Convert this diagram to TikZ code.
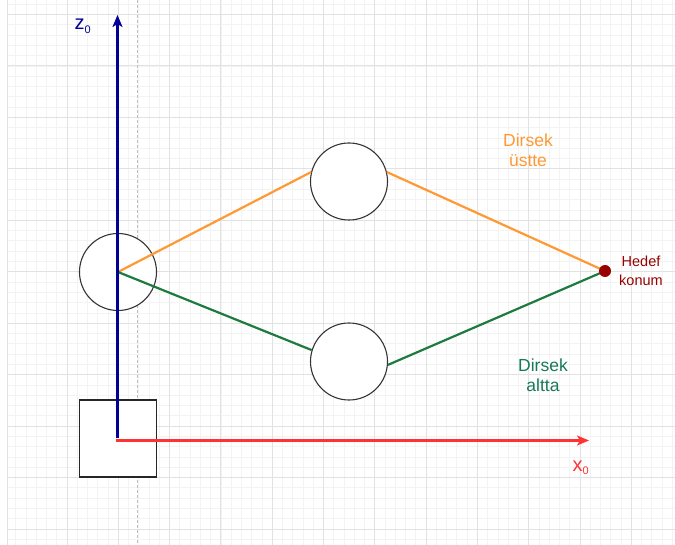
\documentclass[tikz,border=0pt]{standalone}
\usepackage{fontspec}
\setmainfont{Liberation Sans}
\usetikzlibrary{arrows.meta}
\definecolor{gridminor}{RGB}{243,243,243}
\definecolor{gridmajor}{RGB}{226,226,226}
\definecolor{axblue}{RGB}{0,0,153}
\definecolor{axred}{RGB}{255,51,51}
\definecolor{elorange}{RGB}{255,153,51}
\definecolor{elgreen}{RGB}{30,122,62}
\definecolor{txtgreen}{RGB}{22,122,88}
\definecolor{darkred}{RGB}{153,0,0}
\tikzset{
  joint/.style={circle, draw=black!80, line width=1.1pt, fill=white, minimum size=77pt, inner sep=0pt},
  basebox/.style={rectangle, draw=black!85, line width=1.1pt, fill=white, minimum size=77pt, inner sep=0pt},
  target/.style={circle, fill=darkred, minimum size=12pt, inner sep=0pt},
  linkup/.style={elorange, line width=2.2pt},
  linkdown/.style={elgreen, line width=2.2pt},
  axis/.style={line width=2.2pt, -{Stealth[length=12pt,width=10pt,inset=3pt]}},
  lbl/.style={font=\fontsize{17.5}{20}\selectfont, align=center, inner sep=0pt},
  smalllbl/.style={font=\fontsize{14.5}{19}\selectfont, align=center, inner sep=0pt},
}
\begin{document}
\begin{tikzpicture}[x=1pt,y=-1pt]
\useasboundingbox (0,0) rectangle (675,545);
\fill[white] (0,0) rectangle (675,545);
% grid
\foreach \i in {-5,...,62} {
  \pgfmathsetmacro\xx{67+\i*10.26}
  \ifdim\xx pt>7pt \draw[gridminor, line width=0.8pt] (\xx,0) -- (\xx,545); \fi
}
\foreach \i in {-1,...,52} {
  \pgfmathsetmacro\yy{14.5+\i*10.29}
  \draw[gridminor, line width=0.8pt] (7,\yy) -- (675,\yy);
}
\foreach \i in {0,...,11} {
  \draw[gridmajor, line width=1pt] ({67+\i*51.3},0) -- ({67+\i*51.3},545);
}
\foreach \i in {0,...,10} {
  \draw[gridmajor, line width=1pt] (7,{14.5+\i*51.45}) -- (675,{14.5+\i*51.45});
}
\draw[gridmajor, line width=1pt] (7,0) -- (7,545);
% dashed guide
\draw[black!25, line width=0.8pt, dash pattern=on 3pt off 2pt] (137,0) -- (137,545);
% shapes
\node[basebox] (base) at (118,438.5) {};
\node[joint] (c1) at (118,272) {};
\node[joint] (c2) at (349,181.5) {};
\node[joint] (c3) at (349,361.5) {};
\coordinate (t) at (605,271);
% links
\draw[linkup] (c1.center) -- (c2.166);
\draw[linkup] (c2.14) -- (t);
\draw[linkdown] (c1.center) -- (c3.163);
\draw[linkdown] (c3.-5) -- (t);
\node[target] (tdot) at (t) {};
% axes
\coordinate (ztip) at (117.5,15);
\coordinate (xtip) at (589,440.5);
\coordinate (zstart) at (117.5,438);
\coordinate (xstart) at (116,440.5);
\draw[axis, axblue] (zstart) -- (ztip);
\draw[axis, axred] (xstart) -- (xtip);
% labels
\node[anchor=base west, inner sep=0pt, text=axblue, font=\fontsize{20}{20}\selectfont] (zl) at (74.5,30) {z\textsubscript{\fontsize{11}{11}\selectfont 0}};
\node[anchor=base west, inner sep=0pt, text=axred, font=\fontsize{20}{20}\selectfont] (xl) at (572.5,471.5) {x\textsubscript{\fontsize{11}{11}\selectfont 0}};
\node[lbl, text=elorange, anchor=base] (up) at (528,166.5) {Dirsek\\üstte};
\node[lbl, text=txtgreen, anchor=base] (down) at (543,391.5) {Dirsek\\altta};
\node[smalllbl, text=darkred, anchor=base] (hl) at (641,286) {Hedef\\konum};
\end{tikzpicture}
\end{document}
